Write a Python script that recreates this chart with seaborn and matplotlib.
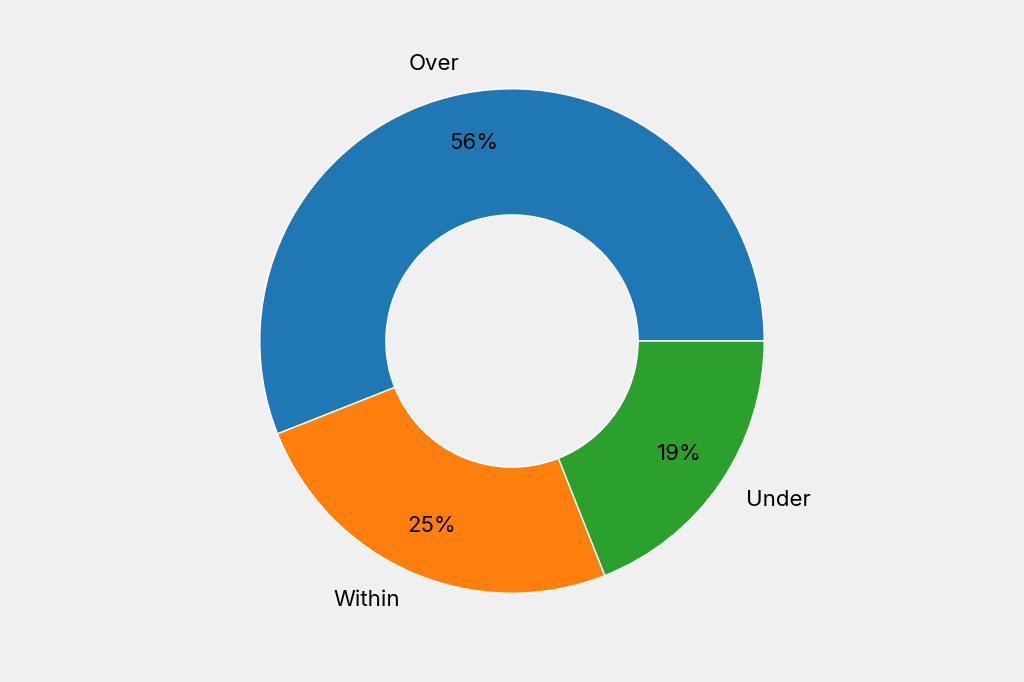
import matplotlib
matplotlib.use("Agg")
import matplotlib.pyplot as plt
import seaborn as sns

labels = ["Over", "Within", "Under"]
shares = [56, 25, 19]

sns.set_theme(style="white", rc={"figure.facecolor": "#f0f0f0", "axes.facecolor": "#f0f0f0"})
plt.rcParams["font.family"] = ["Inter", "DejaVu Sans"]
colors = sns.color_palette("tab10", 3)

fig = plt.figure(figsize=(10.24, 6.82), dpi=100)
ax = fig.add_axes([0, 0, 1, 1])
ax.pie(
    shares,
    labels=labels,
    colors=colors,
    autopct="%.0f%%",
    pctdistance=0.8,
    labeldistance=1.12,
    startangle=0,
    counterclock=True,
    wedgeprops={"width": 0.5},
    textprops={"fontsize": 16, "color": "black"},
)
ax.set_aspect("equal")
ax.set_xlim(-2.03, 2.03)
ax.set_ylim(-1.35, 1.35)
ax.axis("off")
fig.savefig("out.png", dpi=100, facecolor="#f0f0f0")
